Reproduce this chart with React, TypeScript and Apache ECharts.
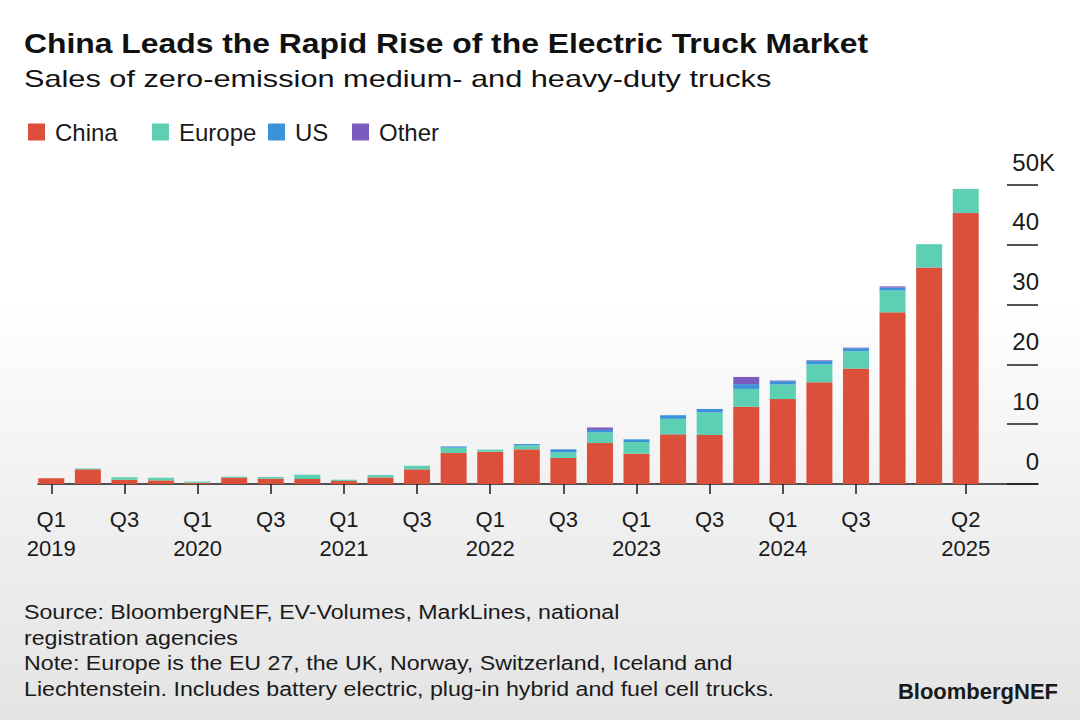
import { useEffect, useRef } from "react";
import * as echarts from "echarts";

const categories = [
  "2019 Q1", "2019 Q2", "2019 Q3", "2019 Q4",
  "2020 Q1", "2020 Q2", "2020 Q3", "2020 Q4",
  "2021 Q1", "2021 Q2", "2021 Q3", "2021 Q4",
  "2022 Q1", "2022 Q2", "2022 Q3", "2022 Q4",
  "2023 Q1", "2023 Q2", "2023 Q3", "2023 Q4",
  "2024 Q1", "2024 Q2", "2024 Q3", "2024 Q4",
  "2025 Q1", "2025 Q2",
];

// Sales, thousands of trucks
const china = [
  0.95, 2.45, 0.72, 0.6, 0.2, 1.06, 0.9, 0.84, 0.5, 1.1,
  2.45, 5.18, 5.4, 5.8, 4.35, 6.85, 5.07, 8.3, 8.2, 12.9,
  14.2, 17.0, 19.3, 28.7, 36.2, 45.3,
];
const europe = [
  0.0, 0.15, 0.4, 0.45, 0.2, 0.17, 0.28, 0.72, 0.22, 0.4,
  0.6, 0.9, 0.35, 0.66, 0.95, 1.8, 1.95, 2.6, 3.75, 3.0,
  2.45, 3.0, 2.9, 3.65, 3.9, 4.05,
];
const us = [
  0, 0, 0, 0, 0, 0, 0, 0, 0, 0,
  0, 0.2, 0, 0.22, 0.5, 0.4, 0.45, 0.6, 0.6, 0.8,
  0.55, 0.6, 0.5, 0.5, 0, 0,
];
const other = [
  0, 0, 0, 0, 0, 0, 0, 0, 0, 0,
  0, 0, 0, 0, 0, 0.4, 0, 0, 0, 1.2,
  0.1, 0.1, 0.1, 0.2, 0, 0,
];

const labeledQuarters = [
  "2019 Q1", "2019 Q3", "2020 Q1", "2020 Q3", "2021 Q1", "2021 Q3",
  "2022 Q1", "2022 Q3", "2023 Q1", "2023 Q3", "2024 Q1", "2024 Q3",
  "2025 Q2",
];
const yearLabeledQuarters = [
  "2019 Q1", "2020 Q1", "2021 Q1", "2022 Q1", "2023 Q1", "2024 Q1", "2025 Q2",
];

const yMin = 0;
const yMax = 50;
const yStep = 10;

const seriesNames = ["China", "Europe", "US", "Other"];
const seriesColors = ["#dc4f3a", "#5dcfb2", "#3a92d8", "#7c5bbf"];
const legendLefts = [28, 152, 268, 352];

const FONT = "'Liberation Sans', Arial, Helvetica, sans-serif";
const INK = "#1a1a1a";

export default function App() {
  const ref = useRef<HTMLDivElement>(null);

  useEffect(() => {
    if (!ref.current) return;
    const chart = echarts.init(ref.current, null, { renderer: "svg" });
    const values = [china, europe, us, other];

    const showIdx = (i: number) => labeledQuarters.includes(categories[i]);

    chart.setOption({
      animation: false,
      textStyle: { fontFamily: FONT },
      legend: seriesNames.map((name, k) => ({
        data: [name],
        left: legendLefts[k],
        top: 120,
        padding: 0,
        icon: "rect",
        itemWidth: 17,
        itemHeight: 17,
        textStyle: {
          fontSize: 24,
          color: INK,
          fontFamily: FONT,
          padding: [0, 0, 0, 5],
        },
        selectedMode: false,
      })),
      grid: [
        { left: 33, right: 96, top: 185, bottom: 236 },
        { left: 38, right: 42, top: 185, bottom: 236 },
      ],
      xAxis: [
        {
          type: "category",
          gridIndex: 0,
          data: categories,
          axisLine: { show: false },
          axisTick: {
            show: true,
            alignWithLabel: true,
            interval: (i: number) => showIdx(i),
            length: 10,
            lineStyle: { color: INK, width: 1.5 },
          },
          axisLabel: {
            interval: (i: number) => showIdx(i),
            margin: 21,
            fontSize: 22,
            lineHeight: 29,
            color: INK,
            fontFamily: FONT,
            formatter: (v: string) => {
              const [yr, q] = v.split(" ");
              return yearLabeledQuarters.includes(v) ? `${q}\n${yr}` : q;
            },
          },
          splitLine: { show: false },
        },
        {
          type: "value",
          gridIndex: 1,
          min: 0,
          max: 1,
          axisLine: { show: true, onZero: false, lineStyle: { color: INK, width: 1.5 } },
          axisTick: { show: false },
          axisLabel: { show: false },
          splitLine: { show: false },
        },
      ],
      yAxis: [
        { type: "value", gridIndex: 0, min: yMin, max: yMax, interval: yStep, show: false },
        {
          type: "value",
          gridIndex: 1,
          position: "right",
          min: yMin,
          max: yMax,
          interval: yStep,
          axisLine: { show: false, onZero: false },
          splitLine: { show: false },
          axisTick: { show: true, inside: true, length: 31, lineStyle: { color: INK, width: 1.5 } },
          axisLabel: {
            showMaxLabel: true,
            showMinLabel: true,
            align: "right",
            verticalAlign: "bottom",
            margin: 17,
            padding: [0, 0, 11, 0],
            formatter: (v: number) => (v === yMax ? `{n|${v}}{k|K}` : `{n|${v}}{h|K}`),
            rich: {
              n: { fontSize: 24, lineHeight: 24, color: INK, fontFamily: FONT },
              k: { fontSize: 24, lineHeight: 24, color: INK, fontFamily: FONT },
              h: { fontSize: 24, lineHeight: 24, color: "rgba(0,0,0,0)", fontFamily: FONT },
            },
          },
        },
      ],
      series: seriesNames.map((name, k) => ({
        name,
        type: "bar",
        stack: "total",
        xAxisIndex: 0,
        yAxisIndex: 0,
        barWidth: 26,
        data: values[k],
        itemStyle: { color: seriesColors[k] },
      })),
      graphic: [
        {
          type: "text",
          x: 24,
          y: 43,
          scaleX: 1.18,
          style: {
            text: "China Leads the Rapid Rise of the Electric Truck Market",
            font: `bold 27px ${FONT}`,
            fill: "#111",
            textVerticalAlign: "middle",
          },
        },
        {
          type: "text",
          x: 24,
          y: 79,
          scaleX: 1.28,
          style: {
            text: "Sales of zero-emission medium- and heavy-duty trucks",
            font: `24px ${FONT}`,
            fill: "#111",
            textVerticalAlign: "middle",
          },
        },
        {
          type: "text",
          x: 24,
          y: 599,
          scaleX: 1.105,
          style: {
            text:
              "Source: BloombergNEF, EV-Volumes, MarkLines, national\nregistration agencies\nNote: Europe is the EU 27, the UK, Norway, Switzerland, Iceland and\nLiechtenstein. Includes battery electric, plug-in hybrid and fuel cell trucks.",
            font: `21px ${FONT}`,
            lineHeight: 25.7,
            fill: "#1a1a1a",
          },
        },
        {
          type: "text",
          right: 22,
          top: 680,
          style: {
            text: "BloombergNEF",
            font: `bold 22px ${FONT}`,
            fill: "#1a1a1a",
          },
        },
      ],
    });

    return () => chart.dispose();
  }, []);

  return (
    <div
      style={{
        position: "fixed",
        left: 0,
        top: 0,
        width: 1080,
        height: 720,
        background:
          "linear-gradient(to bottom, #ffffff 0%, #ffffff 42%, #f1f1f1 68%, #e4e4e4 100%)",
      }}
    >
      <div ref={ref} style={{ width: 1080, height: 720 }} />
    </div>
  );
}
